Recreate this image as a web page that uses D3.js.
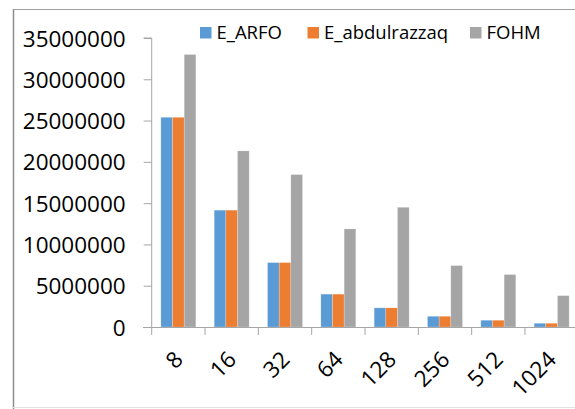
<!DOCTYPE html>
<html>
<head>
<meta charset="utf-8">
<script src="https://cdn.jsdelivr.net/npm/d3@7/dist/d3.min.js"></script>
<style>
  html, body { margin: 0; padding: 0; background: #fff; }
  svg { display: block; }
  text { font-family: "Open Sans", sans-serif; fill: #000; }
</style>
</head>
<body>
<script>
// Block sizes and the cost of each method
const categories = ["8", "16", "32", "64", "128", "256", "512", "1024"];
const seriesNames = ["E_ARFO", "E_abdulrazzaq", "FOHM"];
const eArfo        = [25400000, 14150000, 7800000, 3980000, 2320000, 1300000, 820000, 450000];
const eAbdulrazzaq = [25400000, 14150000, 7800000, 3980000, 2320000, 1300000, 820000, 450000];
const fohm         = [33000000, 21330000, 18460000, 11880000, 14500000, 7440000, 6350000, 3800000];
const yTicks = [0, 5000000, 10000000, 15000000, 20000000, 25000000, 30000000, 35000000];
const colors = ["#5B9BD5", "#ED7D31", "#A5A5A5"];

const seriesValues = [eArfo, eAbdulrazzaq, fohm];
const rows = categories.map((c, i) => ({
  cat: c,
  vals: seriesNames.map((s, j) => ({ key: s, value: seriesValues[j][i] }))
}));

const W = 575, H = 409;
const svg = d3.select("body").append("svg").attr("width", W).attr("height", H);

// frame
svg.append("line").attr("x1", 13.5).attr("x2", 13.5).attr("y1", 9).attr("y2", 409)
  .attr("stroke", "#8c8c8c").attr("stroke-width", 1.5);
svg.append("line").attr("x1", 13).attr("x2", 575).attr("y1", 9.5).attr("y2", 9.5)
  .attr("stroke", "#a0a0a0");
svg.append("line").attr("x1", 13).attr("x2", 575).attr("y1", 407.5).attr("y2", 407.5)
  .attr("stroke", "#e2e2e2");

const plotLeft = 151.7, plotRight = 578.3, plotTop = 38, plotBottom = 327;

const y = d3.scaleLinear().domain([0, 35000000]).range([plotBottom, plotTop]);
const x0 = d3.scaleBand().domain(categories).range([plotLeft, plotRight])
  .paddingInner(0.344).paddingOuter(0.172);
const x1 = d3.scaleBand().domain(seriesNames).range([0, x0.bandwidth()]);
const color = d3.scaleOrdinal().domain(seriesNames).range(colors);

// bars
const g = svg.append("g");
g.selectAll("g.cat").data(rows).join("g")
  .attr("class", "cat")
  .attr("transform", d => `translate(${x0(d.cat)},0)`)
  .selectAll("rect").data(d => d.vals).join("rect")
  .attr("x", d => x1(d.key))
  .attr("width", x1.bandwidth())
  .attr("y", d => y(d.value))
  .attr("height", d => plotBottom - y(d.value))
  .attr("fill", d => color(d.key))
  .attr("stroke", "#ffffff").attr("stroke-opacity", 0.35).attr("stroke-width", 0.6);

// y axis
const yAxis = svg.append("g").attr("transform", `translate(${plotLeft},0)`)
  .call(d3.axisLeft(y).tickValues(yTicks).tickFormat(d3.format("d")).tickSize(8).tickPadding(18));
yAxis.select(".domain").attr("stroke", "#a6a6a6").attr("d", `M-8,${plotTop}H0V${plotBottom}`);
yAxis.selectAll(".tick line").attr("stroke", "#a6a6a6");
yAxis.selectAll(".tick text").attr("font-size", "22.5px").attr("fill", "#000")
  .attr("dy", "0.36em");

// x axis
const edgeScale = d3.scaleLinear().domain([0, categories.length]).range([plotLeft, plotRight]);
const xg = svg.append("g");
xg.append("line").attr("x1", 143).attr("x2", W).attr("y1", plotBottom + 0.5).attr("y2", plotBottom + 0.5)
  .attr("stroke", "#a6a6a6");
xg.selectAll("line.xt").data(d3.range(categories.length + 1)).join("line")
  .attr("class", "xt")
  .attr("x1", i => edgeScale(i)).attr("x2", i => edgeScale(i))
  .attr("y1", plotBottom).attr("y2", plotBottom + 8)
  .attr("stroke", "#a6a6a6");
xg.selectAll("text").data(categories).join("text")
  .attr("transform", d => `translate(${x0(d) + x0.bandwidth() / 2 + 6},${361}) rotate(-45)`)
  .attr("text-anchor", "end")
  .attr("font-size", "22.5px")
  .text(d => d);

// legend
const legendX = [200, 307.5, 470];
const lg = svg.append("g").selectAll("g").data(seriesNames).join("g")
  .attr("transform", (d, i) => `translate(${legendX[i]},27)`);
lg.append("rect").attr("width", 11.5).attr("height", 11.5).attr("fill", d => color(d));
lg.append("text").attr("x", 16.5).attr("y", 12).attr("font-size", "18.5px").text(d => d);
</script>
</body>
</html>
